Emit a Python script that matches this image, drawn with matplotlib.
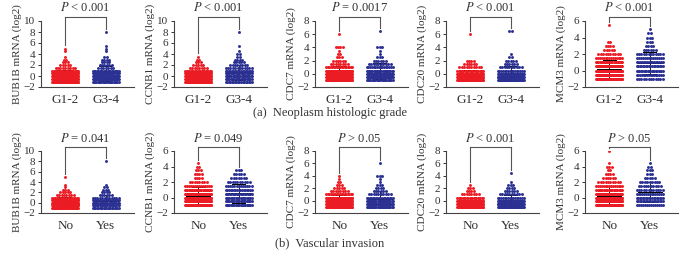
import numpy as np
import matplotlib.pyplot as plt

plt.rcParams['font.family'] = ['Liberation Serif', 'DejaVu Serif']
plt.rcParams['mathtext.fontset'] = 'stix'

# expression values are binned in rows of 0.5 (log2), starting at -1.0
bin_start = -1.0
bin_step = 0.5

genes = ['BUB1B', 'CCNB1', 'CDC7', 'CDC20', 'MCM3']

# (a) neoplasm histologic grade
grade_groups = ['G1-2', 'G3-4']
grade_p = ['P < 0.001', 'P < 0.001', 'P = 0.0017', 'P < 0.001', 'P < 0.001']
grade_ytop = [10, 10, 8, 8, 6]
bub1b_g12 = [38, 52, 55, 45, 22, 9, 5, 3, 2, 1, 0, 1, 1]
bub1b_g34 = [22, 28, 28, 26, 20, 7, 6, 4, 4, 2, 0, 1, 1, 1, 0, 0, 0, 0, 1]
ccnb1_g12 = [45, 55, 55, 40, 20, 8, 5, 3, 2, 1]
ccnb1_g34 = [18, 22, 24, 22, 18, 12, 8, 5, 4, 2, 2, 1, 0, 1, 0, 0, 0, 0, 1]
cdc7_g12 = [45, 55, 55, 40, 18, 8, 6, 3, 2, 1, 4, 0, 0, 0, 1]
cdc7_g34 = [22, 28, 28, 24, 16, 10, 6, 3, 1, 1, 3, 0, 0, 0, 0, 1]
cdc20_g12 = [60, 70, 45, 22, 10, 6, 4, 0, 0, 0, 0, 0, 0, 0, 1]
cdc20_g34 = [35, 40, 28, 16, 10, 6, 5, 2, 1, 0, 0, 0, 0, 0, 0, 2]
mcm3_g12 = [50, 55, 50, 35, 25, 15, 10, 5, 4, 2, 0, 0, 0, 1]
mcm3_g34 = [12, 16, 20, 18, 16, 14, 12, 6, 4, 3, 3, 2, 1]

# (b) vascular invasion
vasc_groups = ['No', 'Yes']
vasc_p = ['P = 0.041', 'P = 0.049', 'P > 0.05', 'P < 0.001', 'P > 0.05']
vasc_ytop = [10, 6, 8, 8, 6]
bub1b_no = [35, 45, 45, 38, 18, 8, 5, 3, 1, 1, 0, 0, 1]
bub1b_yes = [20, 24, 24, 20, 12, 6, 4, 3, 2, 1, 0, 0, 0, 0, 0, 0, 0, 0, 1]
ccnb1_no = [40, 50, 50, 40, 25, 14, 8, 4, 4, 3, 2, 1]
ccnb1_yes = [22, 22, 22, 20, 17, 13, 10, 7, 5, 3]
cdc7_no = [50, 60, 55, 40, 18, 8, 5, 3, 2, 1, 1]
cdc7_yes = [25, 28, 25, 18, 10, 6, 4, 3, 1, 1, 3, 0, 0, 0, 1]
cdc20_no = [55, 60, 40, 20, 8, 4, 3, 1]
cdc20_yes = [32, 38, 28, 16, 10, 6, 4, 3, 1, 0, 0, 1]
mcm3_no = [50, 55, 45, 35, 22, 15, 10, 6, 4, 2, 3, 1, 0, 0, 1]
mcm3_yes = [14, 18, 18, 15, 12, 10, 9, 5, 3, 3, 2, 1]

grade_counts = [(bub1b_g12, bub1b_g34), (ccnb1_g12, ccnb1_g34), (cdc7_g12, cdc7_g34),
                (cdc20_g12, cdc20_g34), (mcm3_g12, mcm3_g34)]
vasc_counts = [(bub1b_no, bub1b_yes), (ccnb1_no, ccnb1_yes), (cdc7_no, cdc7_yes),
               (cdc20_no, cdc20_yes), (mcm3_no, mcm3_yes)]

colors = ['#ec1c24', '#2b3192']

W, H = 682, 267
fig = plt.figure(figsize=(W / 100, H / 100), dpi=100)

lefts = [41, 174, 315, 446, 585]
ax_w = 93


def swarm(counts, center):
    xs, ys = [], []
    for i, n in enumerate(counts):
        if n == 0:
            continue
        y = bin_start + i * bin_step
        sp = 0.06 if n < 2 else min(0.06, 0.64 / (n - 1))
        xs.extend(center + (np.arange(n) - (n - 1) / 2) * sp)
        ys.extend([y] * n)
    return np.array(xs), np.array(ys)


def panel(left, top_px, bot_px, gene, counts, labels, ptext, ytop):
    ax = fig.add_axes([left / W, (H - bot_px) / H, ax_w / W, (bot_px - top_px) / H])
    gmax = []
    for k in range(2):
        xs, ys = swarm(counts[k], k + 1)
        ax.scatter(xs, ys, s=4.5, color=colors[k], marker='o', linewidths=0, zorder=2)
        m, sd = ys.mean(), ys.std()
        ax.plot([k + 1 - 0.3, k + 1 + 0.3], [m, m], color='black', lw=0.7, zorder=1)
        ax.plot([k + 1, k + 1], [m - sd, m + sd], color='black', lw=0.6, zorder=1)
        for v in (m - sd, m + sd):
            ax.plot([k + 1 - 0.16, k + 1 + 0.16], [v, v], color='black', lw=0.7, zorder=1)
        gmax.append(ys.max())
    rng = ytop + 2
    btop = ytop + 0.06 * rng
    for k in range(2):
        ax.plot([k + 1, k + 1], [gmax[k] + 0.05 * rng, btop], color='#555555', lw=0.8, clip_on=False)
    ax.plot([1, 2], [btop, btop], color='#555555', lw=0.8, clip_on=False)
    p, rest = ptext.split(' ', 1)
    ax.text(1.5, btop + 0.04 * rng, r'$P$ ' + rest, ha='center', va='bottom', fontsize=9,
            color='#333333')
    ax.set_xlim(0.4, 2.7)
    ax.set_ylim(-2, ytop)
    ax.set_yticks(np.arange(-2, ytop + 1, 2))
    ax.set_yticklabels(['\u22122' if t < 0 else str(t) for t in np.arange(-2, ytop + 1, 2)])
    ax.set_xticks([1, 2])
    ax.set_xticklabels(labels, fontsize=9.5)
    ax.tick_params(axis='x', length=0, pad=5, colors='#333333')
    ax.tick_params(axis='y', length=2.5, width=0.7, pad=1.5, labelsize=8, colors='#333333')
    for s in ('top', 'right'):
        ax.spines[s].set_visible(False)
    for s in ('left', 'bottom'):
        ax.spines[s].set_color('#444444')
        ax.spines[s].set_linewidth(0.8)
    ax.set_ylabel(gene + ' mRNA (log2)', fontsize=8, labelpad=1.5, color='#333333')
    return ax


for i, g in enumerate(genes):
    panel(lefts[i], 21, 87, g, grade_counts[i], grade_groups, grade_p[i], grade_ytop[i])
    panel(lefts[i], 151, 213, g, vasc_counts[i], vasc_groups, vasc_p[i], vasc_ytop[i])

fig.text(330 / W, 1 - 113 / H, '(a)  Neoplasm histologic grade', ha='center', va='center',
         fontsize=9, color='#333333')
fig.text(330 / W, 1 - 243 / H, '(b)  Vascular invasion', ha='center', va='center',
         fontsize=9, color='#333333')

fig.savefig('out.png', dpi=100)
